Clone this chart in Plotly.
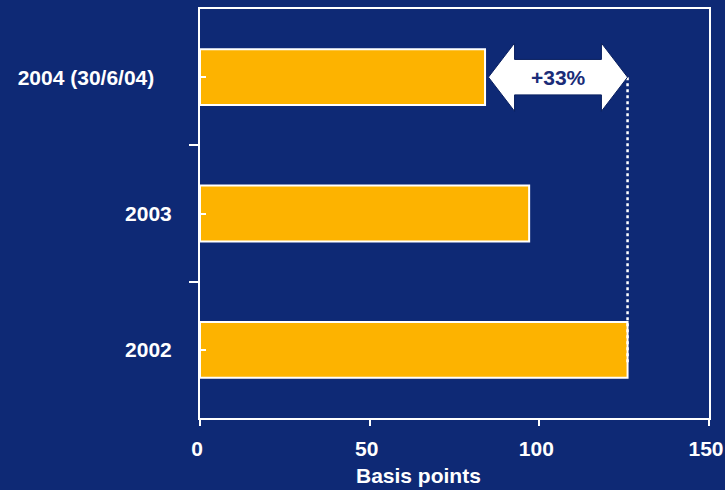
import plotly.graph_objects as go

# Data
categories = ["2002", "2003", "2004 (30/6/04)"]
values = [126, 97, 84]
x_ticks = [0, 50, 100, 150]
change_label = "+33%"
x_title = "Basis points"

NAVY = "#0E2975"
AMBER = "#FDB300"
WHITE = "#FFFFFF"
FONT = "Liberation Sans, Arial, sans-serif"
FS = 21

pos = list(range(len(categories)))
# the 2004 label sits a little further from the axis
tick_text = [c if i < 2 else c + "\u00a0\u00a0\u00a0" for i, c in enumerate(categories)]

fig = go.Figure()
fig.add_trace(go.Bar(
    x=values, y=pos, orientation="h", width=0.41,
    marker=dict(color=AMBER, line=dict(color=WHITE, width=2)),
    hoverinfo="skip",
))

# dotted guide from the 2002 bar end up to the arrow
v_low, v_high = values[2], values[0]
fig.add_shape(type="line", x0=v_high, x1=v_high, y0=pos[2], y1=pos[0] - 0.1,
              line=dict(color=WHITE, width=2.5, dash="3px,3px"), layer="above")

# double-headed arrow between the 2004 and 2002 levels
yc = pos[2]
xa, xb = v_low + 1.0, v_high
head = 7.7
hh, bh = 0.25, 0.13
path = (f"M {xa},{yc} L {xa+head},{yc+hh} L {xa+head},{yc+bh} L {xb-head},{yc+bh} "
        f"L {xb-head},{yc+hh} L {xb},{yc} L {xb-head},{yc-hh} L {xb-head},{yc-bh} "
        f"L {xa+head},{yc-bh} L {xa+head},{yc-hh} Z")
fig.add_shape(type="path", path=path, fillcolor=WHITE,
              line=dict(color="#0A2060", width=1), layer="above")
fig.add_annotation(x=(xa + xb) / 2, y=yc, text=f"<b>{change_label}</b>", showarrow=False,
                   font=dict(family=FONT, size=FS, color="#1A2C78"))

# x-axis title, set slightly left of the plot centre
fig.add_annotation(xref="paper", yref="paper", x=0.43, y=0, xanchor="center",
                   yanchor="top", yshift=-44, text=f"<b>{x_title}</b>", showarrow=False,
                   font=dict(family=FONT, size=FS, color=WHITE))

fig.update_layout(
    width=725, height=490,
    margin=dict(l=200, r=16, t=9, b=72, autoexpand=False),
    paper_bgcolor=NAVY, plot_bgcolor=NAVY,
    showlegend=False,
    font=dict(family=FONT, color=WHITE, size=FS),
    xaxis=dict(
        range=[0, 150], tickvals=x_ticks,
        ticktext=[f"<b>{t}</b>" for t in x_ticks],
        showgrid=False, zeroline=False, automargin=False,
        showline=True, linecolor=WHITE, linewidth=2, mirror=True,
        ticks="outside", ticklen=6, tickwidth=2, tickcolor=WHITE,
        ticklabelstandoff=5, ticklabelshift=-3, ticklabeloverflow="allow",
        tickfont=dict(family=FONT, size=FS, color=WHITE),
    ),
    yaxis=dict(
        range=[-0.5, 2.5], tickvals=pos,
        ticktext=[f"<b>{t}</b>" for t in tick_text],
        showgrid=False, zeroline=False, automargin=False,
        showline=True, linecolor=WHITE, linewidth=2, mirror=True,
        ticks="inside", ticklen=6, tickwidth=2, tickcolor=WHITE,
        ticklabelstandoff=22,
        tickfont=dict(family=FONT, size=FS, color=WHITE),
        minor=dict(tickvals=[-0.5, 0.5, 1.5, 2.5], ticks="outside",
                   ticklen=9, tickwidth=2, tickcolor=WHITE, showgrid=False),
    ),
)

fig.write_html("out.html")
